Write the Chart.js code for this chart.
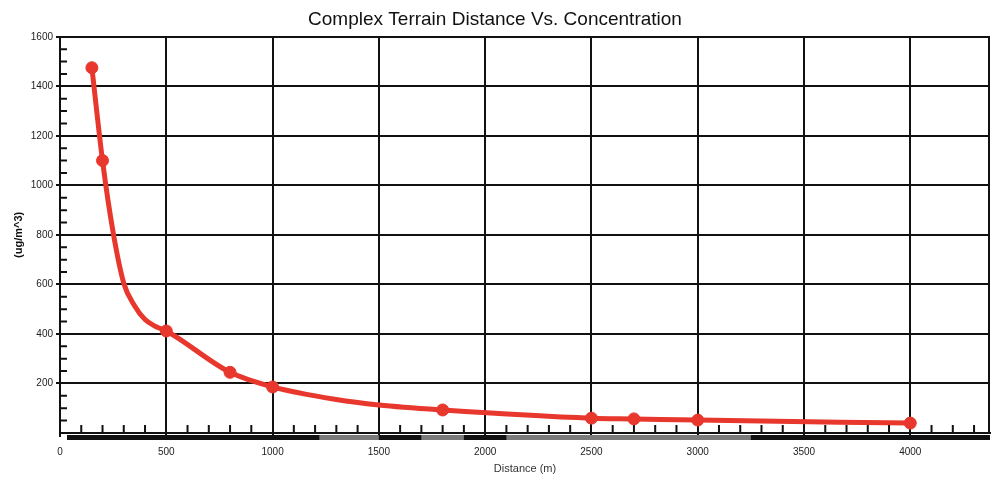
<!DOCTYPE html>
<html>
<head>
<meta charset="utf-8">
<script src="https://cdn.jsdelivr.net/npm/chart.js@4.4.1/dist/chart.umd.min.js"></script>
<style>
    html, body { margin: 0; padding: 0; background: #fff; }
    #wrap { width: 992px; height: 478px; }
</style>
</head>
<body>
<div id="wrap"><canvas id="lineChart" width="992" height="478"></canvas></div>
<script>
// data (unmarked points only shape the curve)
const distances      = [150, 200, 250, 300, 350, 400, 450, 500, 800, 1000, 1300, 1500, 1800, 2500, 2700, 3000, 4000];
const concentrations = [1475, 1100, 810, 605, 515, 458, 430, 412, 245, 186, 135, 113, 93, 60, 57, 52, 40];
const markedDistances = [150, 200, 500, 800, 1000, 1800, 2500, 2700, 3000, 4000];
const xTicks = [0, 500, 1000, 1500, 2000, 2500, 3000, 3500, 4000];
const yTicks = [200, 400, 600, 800, 1000, 1200, 1400, 1600];

document.addEventListener("DOMContentLoaded", function() {
    const points = distances.map((d, i) => ({ x: d, y: concentrations[i] }));
    const radii = distances.map(d => markedDistances.includes(d) ? 6 : 0);

    // minor ticks inside the plot, right border, thick bar under the x axis
    const minorTicks = {
        id: 'minorTicks',
        afterDraw(chart) {
            const { ctx, chartArea: a, scales: { x, y } } = chart;
            ctx.save();
            ctx.strokeStyle = '#111';
            ctx.lineWidth = 2;
            ctx.beginPath();
            for (let v = 100; v <= 4300; v += 100) {
                if (v % 500 === 0) continue;
                const px = x.getPixelForValue(v);
                ctx.moveTo(px, a.bottom);
                ctx.lineTo(px, a.bottom - 8);
            }
            for (let v = 50; v < 1600; v += 50) {
                if (v % 200 === 0) continue;
                const py = y.getPixelForValue(v);
                ctx.moveTo(a.left, py);
                ctx.lineTo(a.left + 7, py);
            }
            ctx.moveTo(a.right - 1, a.top);
            ctx.lineTo(a.right - 1, a.bottom);
            ctx.stroke();

            const x0 = a.left + 7;
            ctx.fillStyle = '#111';
            ctx.fillRect(x0, a.bottom + 2, a.right - x0, 5);
            ctx.fillStyle = '#7a7a7a';
            [[1220, 1500], [1700, 1900], [2100, 3250]].forEach(([s, e]) => {
                const p1 = x.getPixelForValue(s), p2 = x.getPixelForValue(e);
                ctx.fillRect(p1, a.bottom + 2, p2 - p1, 5);
            });
            ctx.restore();
        }
    };

    const tickFont = { family: 'Liberation Sans, Arial, sans-serif', size: 10 };

    new Chart(document.getElementById('lineChart').getContext('2d'), {
        type: 'line',
        data: {
            datasets: [{
                label: 'Concentration',
                data: points,
                borderColor: '#e8372c',
                backgroundColor: '#e8372c',
                borderWidth: 5,
                pointBorderWidth: 1,
                pointRadius: radii,
                pointHoverRadius: radii,
                cubicInterpolationMode: 'monotone'
            }]
        },
        options: {
            responsive: false,
            animation: false,
            layout: { autoPadding: false, padding: { left: 0, right: 2, top: 0, bottom: 0 } },
            plugins: {
                legend: { display: false },
                tooltip: { enabled: false },
                title: {
                    display: true,
                    text: 'Complex Terrain Distance Vs. Concentration',
                    color: '#111',
                    font: { family: 'Liberation Sans, Arial, sans-serif', size: 19, weight: 'normal' },
                    padding: { top: 8, bottom: 6 }
                }
            },
            scales: {
                x: {
                    type: 'linear',
                    min: 0,
                    max: 4375,
                    afterBuildTicks: s => { s.ticks = xTicks.map(v => ({ value: v })); },
                    afterFit: s => { s.height = 45; },
                    grid: { color: '#111', lineWidth: 2, drawTicks: true, tickLength: 4 },
                    border: { color: '#111', width: 2 },
                    ticks: {
                        color: '#222',
                        maxRotation: 0,
                        padding: 9,
                        font: tickFont,
                        callback: v => String(v)
                    },
                    title: {
                        display: true,
                        text: 'Distance (m)',
                        color: '#333',
                        padding: { top: 0, bottom: 2 },
                        font: { family: 'Liberation Sans, Arial, sans-serif', size: 11 }
                    }
                },
                y: {
                    min: 0,
                    max: 1600,
                    afterBuildTicks: s => { s.ticks = yTicks.map(v => ({ value: v })); },
                    afterFit: s => { s.width = 60; },
                    grid: { color: '#111', lineWidth: 2, drawTicks: true, tickLength: 4 },
                    border: { color: '#111', width: 2 },
                    ticks: {
                        color: '#222',
                        padding: 3,
                        font: tickFont,
                        callback: v => String(v)
                    },
                    title: {
                        display: true,
                        text: '(ug/m^3)',
                        color: '#111',
                        padding: { top: 12, bottom: 0 },
                        font: { family: 'Liberation Sans, Arial, sans-serif', size: 11, weight: 'bold' }
                    }
                }
            }
        },
        plugins: [minorTicks]
    });
});
</script>
</body>
</html>
